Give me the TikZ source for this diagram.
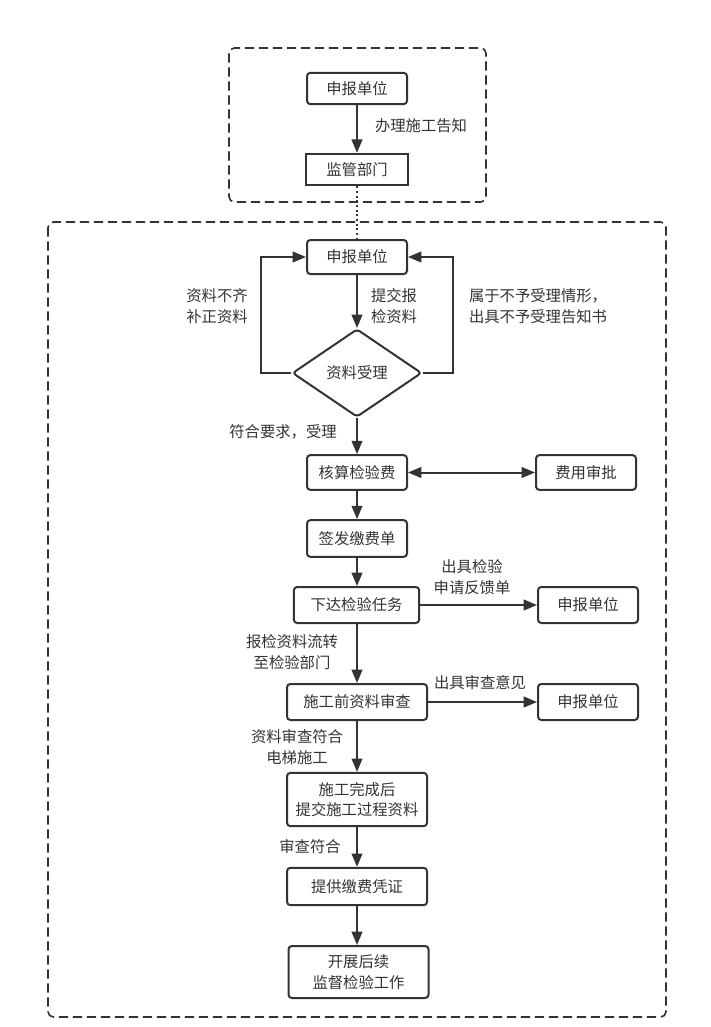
\documentclass[tikz,border=0pt]{standalone}
\usepackage{fontspec}
\setmainfont{Noto Sans CJK SC}
\usepackage{xcolor}
\usetikzlibrary{arrows.meta,shapes.geometric}
\definecolor{linegray}{RGB}{51,51,51}
\tikzset{
  box/.style={draw=linegray,line width=1.5pt,rounded corners=2.5pt,align=center,inner sep=0pt,text=linegray,font=\fontsize{11.5}{15.5}\selectfont},
  lbl/.style={align=center,text=linegray,font=\fontsize{11.5}{15.5}\selectfont},
  tip/.tip={Triangle[length=10pt,width=8pt]},
  arr/.style={draw=linegray,line width=1.5pt,-tip},
  frame/.style={draw=linegray,line width=1.2pt,dash pattern=on 7pt off 3.5pt,rounded corners=4pt}
}
\begin{document}
\begin{tikzpicture}[x=0.75pt,y=0.75pt,yscale=-1,xscale=1]
\useasboundingbox (0,0) rectangle (710,1027);

%Shape: Dashed frames
\draw [frame] (229,48) rectangle (486,202);
\draw [frame] (48,222) rectangle (666,1017);

%Boxes
\node [box,minimum width=75pt,minimum height=23.5pt] (unitA) at (357,88.5) {申报单位};
\node [box,rounded corners=0pt,minimum width=77pt,minimum height=23.5pt] (supv) at (357,169.5) {监管部门};
\node [box,minimum width=75pt,minimum height=25.5pt] (unitB) at (357,257) {申报单位};
\node [box,shape=diamond,minimum width=97pt,minimum height=66pt] (accept) at (357,373) {资料受理};
\node [box,minimum width=75pt,minimum height=26pt] (fee) at (357,472.5) {核算检验费};
\node [box,minimum width=75pt,minimum height=26pt] (approve) at (586,472.5) {费用审批};
\node [box,minimum width=75pt,minimum height=27.5pt] (bill) at (357,538.5) {签发缴费单};
\node [box,minimum width=94pt,minimum height=27pt] (task) at (356.5,605) {下达检验任务};
\node [box,minimum width=75pt,minimum height=27pt] (unitC) at (588,605) {申报单位};
\node [box,minimum width=105pt,minimum height=27pt] (review) at (357,702) {施工前资料审查};
\node [box,minimum width=75pt,minimum height=27pt] (unitD) at (588,702) {申报单位};
\node [box,minimum width=105pt,minimum height=40pt] (submit) at (357,799.5) {施工完成后\\提交施工过程资料};
\node [box,minimum width=105pt,minimum height=28pt] (proof) at (357,886.5) {提供缴费凭证};
\node [box,minimum width=105pt,minimum height=39pt] (follow) at (358.5,972) {开展后续\\监督检验工作};

%Connectors
\draw [arr] (unitA) -- (supv);
\draw [draw=linegray,line width=1.5pt,dotted] (supv) -- (unitB);
\draw [arr] (unitB) -- (accept);
\draw [arr] (accept.west) -- ++(-30,0) |- (unitB.west);
\draw [arr] (accept.east) -- ++(30,0) |- (unitB.east);
\draw [arr] (accept) -- (fee);
\draw [arr,tip-tip] (fee) -- (approve);
\draw [arr] (fee) -- (bill);
\draw [arr] (bill) -- (bill.south |- task.north);
\draw [arr] (task) -- (unitC);
\draw [arr] (task.south -| review.north) -- (review);
\draw [arr] (review) -- (unitD);
\draw [arr] (review) -- (submit);
\draw [arr] (submit) -- (proof);
\draw [arr] (proof) -- (proof.south |- follow.north);

% Text Node
\node [lbl] (tNotice) at (421,126) {办理施工告知};
% Text Node
\node [lbl] (tLack) at (217,306) {资料不齐\\补正资料};
% Text Node
\node [lbl] (tHand) at (394,306) {提交报\\检资料};
% Text Node
\node [lbl] (tReject) at (538,306) {属于不予受理情形，\\出具不予受理告知书};
% Text Node
\node [lbl] (tOk) at (283,432) {符合要求，受理};
% Text Node
\node [lbl] (tFeedback) at (472,577) {出具检验\\申请反馈单};
% Text Node
\node [lbl] (tTransfer) at (292,652) {报检资料流转\\至检验部门};
% Text Node
\node [lbl] (tOpinion) at (480,683) {出具审查意见};
% Text Node
\node [lbl] (tBuild) at (297,747) {资料审查符合\\电梯施工};
% Text Node
\node [lbl] (tPass) at (310,847) {审查符合};

\end{tikzpicture}
\end{document}
